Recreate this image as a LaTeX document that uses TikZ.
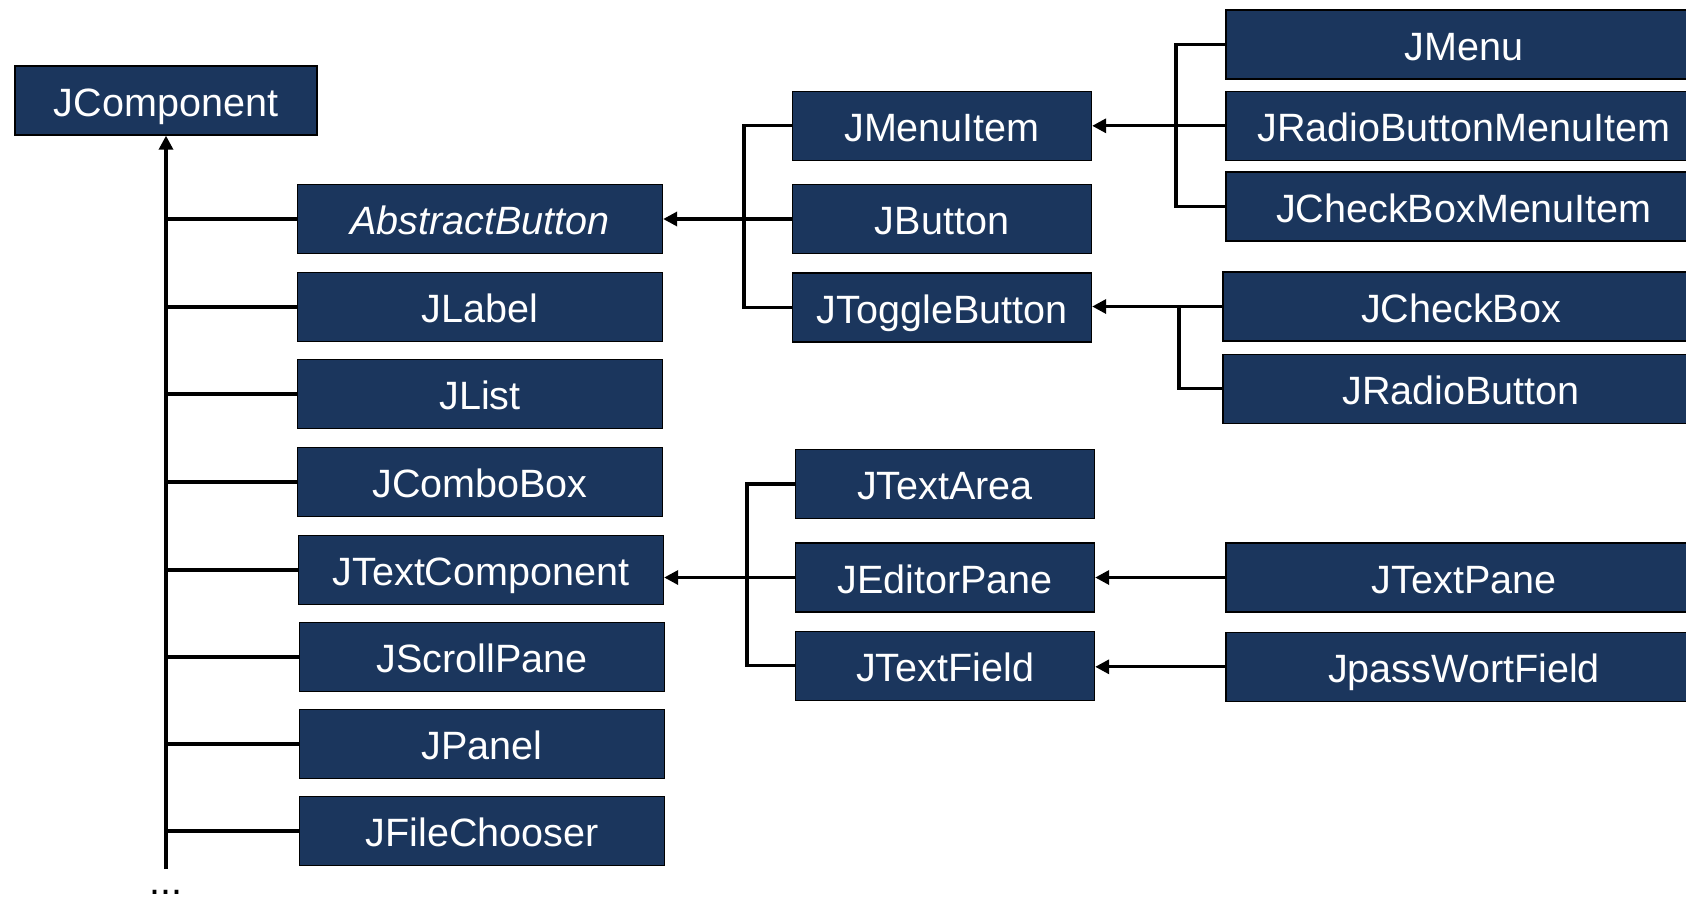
\documentclass[tikz,border=0pt]{standalone}
\usepackage{fontspec}
\setmainfont{Liberation Sans}
\usetikzlibrary{arrows.meta}
\definecolor{navy}{RGB}{27,54,93}
\begin{document}
\begin{tikzpicture}[x=0.02cm,y=-0.02cm,
  cls/.style={draw=black, line width=0.8pt, fill=navy, text=white, inner sep=0pt,
    minimum height=1.38cm, text height=18pt, text depth=0pt,
    font=\fontsize{22.5}{27}\selectfont},
  leftcls/.style={cls, minimum width=7.3cm},
  midcls/.style={cls, minimum width=5.98cm},
  rightcls/.style={cls, minimum width=9.52cm},
  link/.style={line width=1.9pt, draw=black},
  inherit/.style={link, -{Triangle[length=0.28cm,width=0.28cm]}}]
\clip (0,0) rectangle (1686,897);

% root class
\node[cls, minimum width=6.04cm] (jc) at (166,100.5) {JComponent};

% direct subclasses of JComponent
\node[leftcls] (ab)  at (480,219)  {\itshape AbstractButton};
\node[leftcls] (jl)  at (480,307)  {JLabel};
\node[leftcls] (jli) at (480,394)  {JList};
\node[leftcls] (jcb) at (480,482)  {JComboBox};
\node[leftcls] (jtc) at (481,570)  {JTextComponent};
\node[leftcls] (jsp) at (482,657)  {JScrollPane};
\node[leftcls] (jp)  at (482,744)  {JPanel};
\node[leftcls] (jfc) at (482,831)  {JFileChooser};

% button family
\node[midcls] (jmi) at (942,125.8) {JMenuItem};
\node[midcls] (jb)  at (942,219)   {JButton};
\node[midcls] (jtb) at (942,307.5) {JToggleButton};

% text family
\node[midcls] (jta) at (945,484)   {JTextArea};
\node[midcls] (jep) at (945,577.5) {JEditorPane};
\node[midcls] (jtf) at (945,665.7) {JTextField};

% third level
\node[rightcls] (jm)   at (1464,44.6)  {JMenu};
\node[rightcls] (jrbm) at (1464,125.8) {JRadioButtonMenuItem};
\node[rightcls] (jcbm) at (1464,206.5) {JCheckBoxMenuItem};
\node[rightcls] (jchk) at (1461,306.5) {JCheckBox};
\node[rightcls] (jrb)  at (1461,388.7) {JRadioButton};
\node[rightcls] (jtp)  at (1464,577.5) {JTextPane};
\node[rightcls] (jpw)  at (1464,666.8) {JpassWortField};

% trunk below JComponent
\coordinate (trunkend) at (166,869);
\draw[inherit] (trunkend) -- (jc.south);
\foreach \n in {ab,jl,jli,jcb,jtc,jsp,jp,jfc}
  \draw[link] (jc.south |- \n.west) -- (\n.west);
\node[font=\fontsize{22.5}{27}\selectfont, inner sep=0pt, anchor=base] (more) at (166,894) {...};

% AbstractButton subtree
\coordinate (b1) at (744,0);
\draw[link] (jmi.west) -- (b1 |- jmi.west) -- (b1 |- jtb.west) -- (jtb.west);
\draw[inherit] (jb.west) -- (ab.east);

% JTextComponent subtree
\coordinate (b2) at (747,0);
\draw[link] (jta.west) -- (b2 |- jta.west) -- (b2 |- jtf.west) -- (jtf.west);
\draw[inherit] (jep.west) -- (jtc.east |- jep.west);

% JMenuItem subtree
\coordinate (b3) at (1176,0);
\draw[link] (jm.west) -- (b3 |- jm.west) -- (b3 |- jcbm.west) -- (jcbm.west);
\draw[inherit] (jrbm.west) -- (jmi.east);

% JToggleButton subtree
\coordinate (b4) at (1179,0);
\draw[inherit] (jchk.west) -- (jtb.east |- jchk.west);
\draw[link] (b4 |- jchk.west) -- (b4 |- jrb.west) -- (jrb.west);

% editor and field subclasses
\draw[inherit] (jtp.west) -- (jep.east);
\draw[inherit] (jpw.west) -- (jtf.east |- jpw.west);
\end{tikzpicture}
\end{document}
